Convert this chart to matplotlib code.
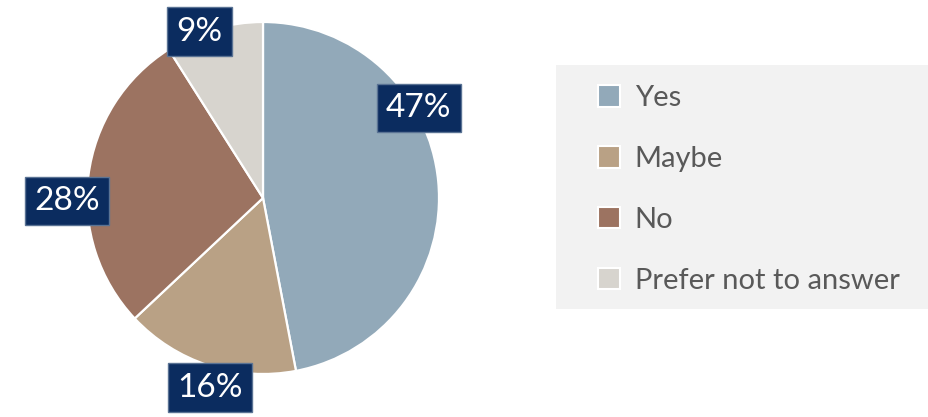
#!/usr/bin/env python

# Pie chart of survey answers with a grey legend panel on the right.

import matplotlib
matplotlib.use("Agg")
import matplotlib.pyplot as plt
import matplotlib.patches as mpatches
import numpy as np

categories = ["Yes", "Maybe", "No", "Prefer not to answer"]
shares = [47, 16, 28, 9]
pct_labels = ["47%", "16%", "28%", "9%"]
colours = ["#92A9B9", "#B9A185", "#9C7361", "#D7D4CE"]

plt.rcParams["font.family"] = ["Lato", "DejaVu Sans"]

W, H = 929, 417
fig = plt.figure(figsize=(W / 100, H / 100), dpi=100, facecolor="white")

# pixel-space axes over the whole figure
ax = fig.add_axes([0, 0, 1, 1])
ax.set_axis_off()

wedges, _ = ax.pie(shares, colors=colours, startangle=90, counterclock=False,
                   center=(263, H - 198), radius=176,
                   wedgeprops=dict(edgecolor="white", linewidth=1.6))
# pie resets limits, so fix them afterwards
ax.set_xlim(0, W)
ax.set_ylim(0, H)
ax.set_aspect("equal")

# label placement: (angle in degrees, distance in px from centre)
label_pos = [(30, 180), (-105.6, 197), (180.9, 196), (110.8, 178)]
for txt, (ang, dist) in zip(pct_labels, label_pos):
    a = np.deg2rad(ang)
    ax.text(263 + dist * np.cos(a), H - 198 + dist * np.sin(a), txt,
            ha="center", va="center", color="white", fontsize=24,
            bbox=dict(boxstyle="square,pad=0.28", facecolor="#0B2C5F",
                      edgecolor="#5A7394", linewidth=1))

# legend panel
fig.patches.append(mpatches.Rectangle((556 / W, (H - 309) / H),
                                      (W - 556) / W, 244 / H,
                                      transform=fig.transFigure,
                                      facecolor="#F2F2F2", edgecolor="none",
                                      zorder=0))
handles = [mpatches.Patch(facecolor=c, edgecolor="white", linewidth=1.5)
           for c in colours]
leg = fig.legend(handles, categories, loc="center left",
                 bbox_to_anchor=(598 / W, (H - 189.5) / H),
                 frameon=False, fontsize=21, labelcolor="#595959",
                 handlelength=0.76, handleheight=0.76, handletextpad=0.5,
                 labelspacing=1.19, borderpad=0, borderaxespad=0)

fig.savefig("out.png", dpi=100, facecolor="white")
